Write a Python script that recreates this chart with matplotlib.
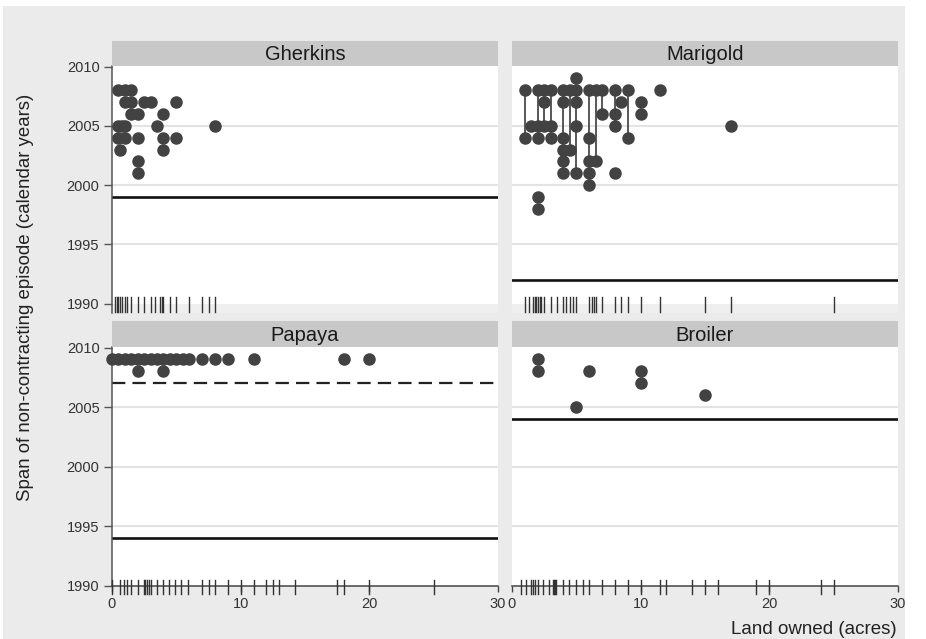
from matplotlib import pyplot as plt
from matplotlib.patches import Rectangle

#==============================================================================
# data
panelNames = ['Gherkins', 'Marigold', 'Papaya', 'Broiler']

gherkinsX = [0.5, 1.0, 1.5, 1.0, 1.5, 2.5, 3.0, 5.0, 1.5, 2.0, 4.0, 0.5, 0.75, 1.0, 3.5, 8.0,
             0.5, 1.0, 2.0, 4.0, 5.0, 0.6, 4.0, 2.0, 2.0]
gherkinsY = [2008, 2008, 2008, 2007, 2007, 2007, 2007, 2007, 2006, 2006, 2006, 2005, 2005, 2005, 2005, 2005,
             2004, 2004, 2004, 2004, 2004, 2003, 2003, 2002, 2001]
gherkinsRug = [0.25, 0.4, 0.5, 0.6, 0.8, 1.0, 1.2, 1.5, 2.0, 2.5, 3.0, 3.35, 3.7, 3.85, 4.0, 4.5,
               5.0, 6.0, 7.0, 7.5, 8.0]

marigoldX = [5.0,
             1.0, 2.0, 2.5, 3.0, 4.0, 4.5, 5.0, 6.0, 6.5, 7.0, 8.0, 9.0, 11.5,
             2.5, 4.0, 5.0, 8.5, 10.0,
             7.0, 8.0, 10.0,
             1.5, 2.0, 2.5, 3.0, 5.0, 8.0, 17.0,
             1.0, 2.0, 3.0, 4.0, 6.0, 9.0,
             4.0, 4.5,
             4.0, 6.0, 6.5,
             4.0, 5.0, 6.0, 8.0,
             6.0, 2.0, 2.0]
marigoldY = [2009,
             2008, 2008, 2008, 2008, 2008, 2008, 2008, 2008, 2008, 2008, 2008, 2008, 2008,
             2007, 2007, 2007, 2007, 2007,
             2006, 2006, 2006,
             2005, 2005, 2005, 2005, 2005, 2005, 2005,
             2004, 2004, 2004, 2004, 2004, 2004,
             2003, 2003,
             2002, 2002, 2002,
             2001, 2001, 2001, 2001,
             2000, 1999, 1998]
# vertical links between episodes of the same household (x, from, to)
marigoldLinkX = [1.0, 2.0, 2.5, 3.0, 4.0, 4.5, 5.0, 6.0, 6.5, 7.0, 8.0, 9.0]
marigoldLinkLo = [2004, 2004, 2005, 2004, 2001, 2003, 2001, 2000, 2002, 2006, 2005, 2004]
marigoldLinkHi = [2008, 2008, 2008, 2008, 2008, 2008, 2009, 2008, 2008, 2008, 2008, 2008]
marigoldRug = [1.0, 1.35, 1.6, 1.75, 1.85, 2.0, 2.15, 2.25, 2.5, 3.0, 3.5, 4.0, 4.2, 4.5, 4.75,
               5.0, 6.0, 6.2, 6.4, 6.5, 7.0, 8.0, 8.5, 9.0, 10.0, 11.5, 15.0, 17.0, 25.0]

papayaX = [0.0, 0.5, 1.0, 1.5, 2.0, 2.5, 3.0, 3.5, 4.0, 4.5, 5.0, 5.5, 6.0, 7.0, 8.0, 9.0, 11.0,
           18.0, 20.0, 2.0, 4.0]
papayaY = [2009, 2009, 2009, 2009, 2009, 2009, 2009, 2009, 2009, 2009, 2009, 2009, 2009, 2009,
           2009, 2009, 2009, 2009, 2009, 2008, 2008]
papayaRug = [0.0, 0.6, 0.9, 1.2, 1.5, 2.0, 2.5, 2.6, 2.75, 2.9, 3.0, 3.5, 4.0, 4.4, 4.9, 5.4, 5.9,
             7.0, 7.5, 8.0, 9.0, 10.0, 11.0, 12.0, 12.5, 13.0, 14.2, 17.5, 18.0, 20.0, 25.0]

broilerX = [2.0, 2.0, 6.0, 10.0, 10.0, 15.0, 5.0]
broilerY = [2009, 2008, 2008, 2008, 2007, 2006, 2005]
broilerRug = [0.7, 1.1, 1.5, 1.6, 1.75, 2.0, 2.4, 2.9, 3.15, 3.25, 3.35, 3.45, 4.0, 4.4, 5.0, 5.5,
              6.0, 7.0, 8.0, 9.0, 10.0, 11.5, 12.0, 14.0, 15.0, 16.0, 19.0, 20.0, 24.0, 25.0]

# reference years (solid) and the dashed one for papaya
solidYears = [1999, 1992, 1994, 2004]
dashedYears = [None, None, 2007, None]

yTicks = [1990, 1995, 2000, 2005, 2010]
xTicks = [0, 10, 20, 30]

#==============================================================================
W, H = 926, 639
BG = '#ebebeb'
DOT = '#424242'
INK = '#333333'

def px(x0, y0, x1, y1):
    # pixel box -> figure fraction [left, bottom, width, height]
    return [x0 / W, 1 - y1 / H, (x1 - x0) / W, (y1 - y0) / H]

def addStrip(fig, box, name):
    fig.add_artist(Rectangle((box[0], box[1]), box[2], box[3], transform=fig.transFigure,
                             facecolor='#c8c8c8', edgecolor='none', zorder=1))
    fig.text(box[0] + box[2] / 2, box[1] + box[3] / 2 - 0.002, name, ha='center', va='center',
             fontsize=14.5, color='#1a1a1a')

def drawPanel(ax, xs, ys, rug, solid, dashed, top, left):
    ax.set_facecolor('white')
    ax.set_xlim(0, 30)
    if top:
        ax.set_ylim(1989.2, 2010.05)
        ax.axhspan(1989.2, 1990, color='#efefef', lw=0, zorder=0)
    else:
        ax.set_ylim(1990, 2010.05)
    for g in [1995, 2000, 2005]:
        ax.axhline(g, color='#e3e3e3', lw=1.5, zorder=0)
    ax.axhline(solid, color='#111111', lw=1.9, zorder=2)
    if dashed is not None:
        ax.axhline(dashed, color='#222222', lw=1.6, ls=(0, (6, 3.2)), zorder=2)
    # rug of land holdings
    for r in rug:
        if top:
            ax.plot([r, r], [1989.25, 1990.55], color=INK, lw=1.0, clip_on=False, zorder=3)
        else:
            ax.plot([r, r], [1989.3, 1990.45], color=INK, lw=1.0, clip_on=False, zorder=3)
    ax.plot(xs, ys, 'o', color=DOT, ms=8, mec=DOT, zorder=4, clip_on=False)

    for s in ['top', 'right']:
        ax.spines[s].set_visible(False)
    ax.spines['left'].set_visible(left)
    ax.spines['bottom'].set_visible(not top)
    ax.spines['left'].set_color('#555555')
    ax.spines['bottom'].set_color('#444444')
    ax.spines['left'].set_linewidth(1.1)
    ax.spines['bottom'].set_linewidth(1.1)

    ax.set_yticks(yTicks)
    ax.set_xticks(xTicks)
    ax.tick_params(axis='y', length=5.5, width=1.0, color='#555555', labelsize=10.5,
                   labelcolor=INK, pad=3.5, left=left, labelleft=left)
    ax.tick_params(axis='x', length=4, width=1.0, color='#444444', labelsize=10.5,
                   labelcolor=INK, pad=4, bottom=not top, labelbottom=not top)

#==============================================================================
def main():
    plt.rcParams['font.family'] = ['Liberation Sans', 'DejaVu Sans']
    fig = plt.figure(figsize=(W / 100, H / 100), dpi=100, facecolor='white')
    fig.add_artist(Rectangle((3 / W, 0), 902 / W, 1 - 6 / H, transform=fig.transFigure,
                             facecolor=BG, edgecolor='none', zorder=0))

    cols = [(112, 498), (512, 898)]
    plotRows = [(66, 313), (347, 585.5)]
    stripRows = [(41, 66), (321, 347)]

    allX = [gherkinsX, marigoldX, papayaX, broilerX]
    allY = [gherkinsY, marigoldY, papayaY, broilerY]
    allRug = [gherkinsRug, marigoldRug, papayaRug, broilerRug]

    for i, name in enumerate(panelNames):
        r, c = divmod(i, 2)
        x0, x1 = cols[c]
        ax = fig.add_axes(px(x0, plotRows[r][0], x1, plotRows[r][1]))
        if name == 'Marigold':
            ax.vlines(marigoldLinkX, marigoldLinkLo, marigoldLinkHi, color='#4a4a4a', lw=1.3, zorder=3)
        drawPanel(ax, allX[i], allY[i], allRug[i], solidYears[i], dashedYears[i], r == 0, c == 0)
        addStrip(fig, px(x0, stripRows[r][0], x1, stripRows[r][1]), name)

    fig.text(26 / W, 1 - 297 / H, 'Span of non-contracting episode (calendar years)', rotation=90,
             ha='center', va='center', fontsize=13.4, color='#222222')
    fig.text(897 / W, 1 - 629 / H, 'Land owned (acres)', ha='right', va='center',
             fontsize=13.5, color='#222222')

    fig.savefig('out.png', dpi=100, facecolor=fig.get_facecolor())


if __name__ == "__main__":
    main()
